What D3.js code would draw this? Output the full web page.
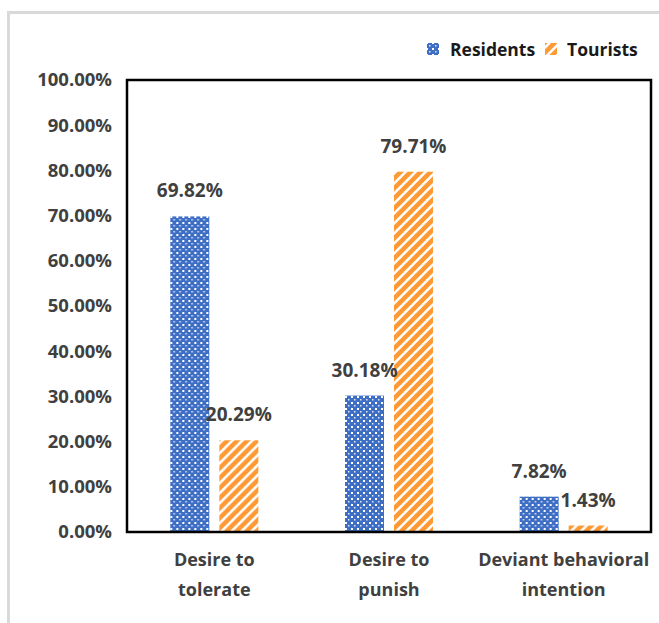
<!DOCTYPE html>
<html>
<head>
<meta charset="utf-8">
<script src="https://cdn.jsdelivr.net/npm/d3@7/dist/d3.min.js"></script>
<style>
  html, body { margin: 0; padding: 0; background: #fff; }
  svg { display: block; font-family: "Open Sans", "Liberation Sans", Arial, sans-serif; }
</style>
</head>
<body>
<svg id="chart" width="659" height="623"></svg>
<script>
// ---- data ----
const categories = ["Desire to\ntolerate", "Desire to\npunish", "Deviant behavioral\nintention"];
const seriesNames = ["Residents", "Tourists"];
const residents = [0.6982, 0.3018, 0.0782];
const tourists = [0.2029, 0.7971, 0.0143];
const yTicks = [0, 0.1, 0.2, 0.3, 0.4, 0.5, 0.6, 0.7, 0.8, 0.9, 1.0];

const W = 659, H = 623;
const margin = { left: 127, top: 80, right: 8, bottom: 91 };
const plotW = W - margin.left - margin.right; // 524
const plotH = H - margin.top - margin.bottom; // 452

const svg = d3.select("#chart");
svg.append("rect").attr("width", W).attr("height", H).attr("fill", "#fff");

// outer light border
svg.append("rect")
  .attr("x", 8.5).attr("y", 12.5)
  .attr("width", W + 20).attr("height", H + 20)
  .attr("fill", "none").attr("stroke", "#d9d9d9").attr("stroke-width", 3);

// patterns
const defs = svg.append("defs");
const pBlue = defs.append("pattern").attr("id", "pat-res")
  .attr("patternUnits", "userSpaceOnUse").attr("width", 6).attr("height", 6);
pBlue.append("rect").attr("width", 6).attr("height", 6).attr("fill", "#3f6fc4");
pBlue.append("rect").attr("x", 0).attr("y", 0).attr("width", 2).attr("height", 2).attr("fill", "#ffffff");
pBlue.append("rect").attr("x", 3).attr("y", 3).attr("width", 1.5).attr("height", 1.5).attr("fill", "#dfe7f5");

const pOrange = defs.append("pattern").attr("id", "pat-tou")
  .attr("patternUnits", "userSpaceOnUse").attr("width", 10).attr("height", 10);
pOrange.append("rect").attr("width", 10).attr("height", 10).attr("fill", "#ffffff");
pOrange.append("path")
  .attr("d", "M-2.5,10 L10,-2.5 M2.5,15 L15,2.5 M-7.5,5 L5,-7.5")
  .attr("stroke", "#ff9933").attr("stroke-width", 4.5);

const fills = ["url(#pat-res)", "url(#pat-tou)"];

// scales
const x0 = d3.scaleBand().domain(categories).range([margin.left, margin.left + plotW]).padding(0);
const x1 = d3.scaleBand().domain(seriesNames).range([0, 88]).paddingInner(0.204).paddingOuter(0);
const y = d3.scaleLinear().domain([0, 1]).range([margin.top + plotH, margin.top]);

const data = categories.map((c, i) => ({ cat: c, vals: [residents[i], tourists[i]] }));

// bars
const groups = svg.append("g").selectAll("g").data(data).join("g")
  .attr("transform", d => `translate(${x0(d.cat) + x0.bandwidth() / 2 - 44},0)`);

groups.selectAll("rect").data(d => d.vals.map((v, j) => ({ v, j })))
  .join("rect")
  .attr("x", d => x1(seriesNames[d.j]))
  .attr("y", d => y(d.v))
  .attr("width", x1.bandwidth())
  .attr("height", d => y(0) - y(d.v))
  .attr("fill", d => fills[d.j]);

groups.selectAll("text.lbl").data(d => d.vals.map((v, j) => ({ v, j })))
  .join("text").attr("class", "lbl")
  .attr("x", d => x1(seriesNames[d.j]) + x1.bandwidth() / 2)
  .attr("y", d => y(d.v) - 19)
  .attr("text-anchor", "middle")
  .attr("font-size", 19).attr("font-weight", 700).attr("fill", "#404040")
  .text(d => d3.format(".2%")(d.v));

// y axis
const yAxis = svg.append("g").attr("transform", `translate(${margin.left},0)`)
  .call(d3.axisLeft(y).tickValues(yTicks).tickFormat(d3.format(".2%")).tickSize(0).tickPadding(15));
yAxis.select(".domain").remove();
yAxis.selectAll("text")
  .attr("font-family", "'Open Sans', 'Liberation Sans', Arial, sans-serif")
  .attr("font-size", 18.5).attr("font-weight", 700).attr("fill", "#404040");

// x axis
const xAxis = svg.append("g").attr("transform", `translate(0,${margin.top + plotH})`)
  .call(d3.axisBottom(x0).tickSize(0).tickFormat(""));
xAxis.select(".domain").remove();
xAxis.selectAll(".tick").each(function(d) {
  const t = d3.select(this).append("text")
    .attr("text-anchor", "middle")
    .attr("font-family", "'Open Sans', 'Liberation Sans', Arial, sans-serif")
    .attr("font-size", 18).attr("font-weight", 700).attr("fill", "#404040");
  d.split("\n").forEach((line, k) => {
    t.append("tspan").attr("x", 0).attr("y", 34 + k * 30).text(line);
  });
});

// plot frame
svg.append("rect")
  .attr("x", margin.left).attr("y", margin.top)
  .attr("width", plotW).attr("height", plotH)
  .attr("fill", "none").attr("stroke", "#000").attr("stroke-width", 2.5);

// legend
const legendItems = [
  { name: seriesNames[0], fill: fills[0], sx: 427, tx: 450 },
  { name: seriesNames[1], fill: fills[1], sx: 545, tx: 567 }
];
const lg = svg.append("g");
legendItems.forEach(it => {
  lg.append("rect").attr("x", it.sx).attr("y", 43).attr("width", 12).attr("height", 12).attr("fill", it.fill);
  lg.append("text").attr("x", it.tx).attr("y", 56)
    .attr("font-size", 17.5).attr("font-weight", 700).attr("fill", "#1a1a1a")
    .text(it.name);
});
</script>
</body>
</html>
